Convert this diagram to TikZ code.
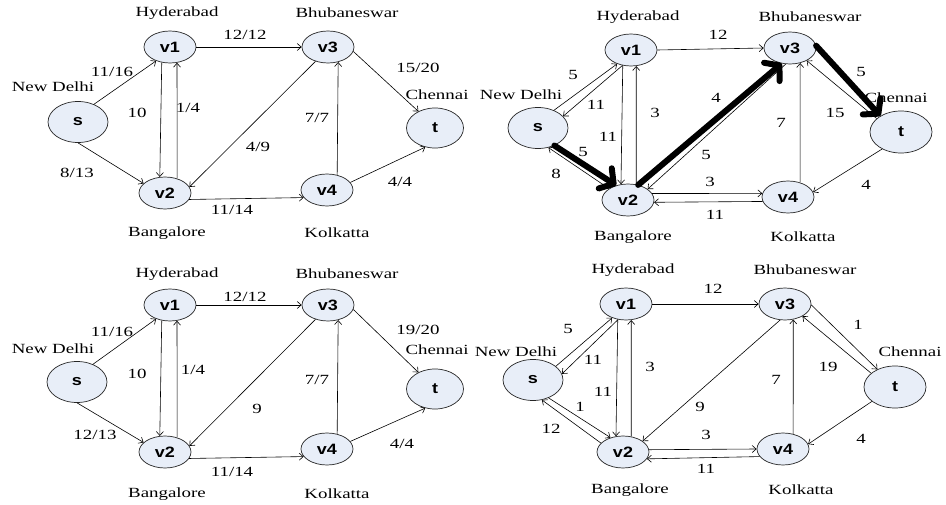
\documentclass[tikz,border=0pt]{standalone}
\usepackage{fontspec}
\setmainfont{Liberation Serif}[FakeStretch=1.35]
\newfontfamily\vertexfont{Liberation Sans}[FakeStretch=1.2]
\usetikzlibrary{arrows.meta,shapes.geometric}
\definecolor{nodefill}{RGB}{232,238,248}

\begin{document}
\begin{tikzpicture}[x=1pt,y=-1pt,
  >={Straight Barb[length=4pt,width=7pt]},
  vertex/.style={ellipse,draw=black!85,fill=nodefill,line width=0.7pt,inner sep=0pt,
                 minimum width=52pt,minimum height=32pt,
                 font=\vertexfont\bfseries\fontsize{15}{15}\selectfont},
  terminal/.style={vertex,minimum width=60pt,minimum height=41pt},
  city/.style={inner sep=0pt,font=\fontsize{14}{14}\selectfont},
  weight/.style={inner sep=0pt,font=\fontsize{14}{14}\selectfont},
  flow/.style={->,line width=0.6pt},
  augment/.style={-{Straight Barb[length=10pt,width=24pt,round]},line width=6pt,line cap=round}]
\useasboundingbox (0,0) rectangle (946,505);

% top left: flow after first augmentation
\node[terminal] (a-s) at (78,122) {s};
\node[vertex] (a-v1) at (170,47) {v1};
\node[vertex] (a-v2) at (165,193) {v2};
\node[vertex] (a-v3) at (328,47) {v3};
\node[vertex] (a-v4) at (327,190) {v4};
\node[terminal,minimum width=57pt,minimum height=40pt] (a-t) at (435,128) {t};
\node[city] (a-hyd) at (177,13) {Hyderabad};
\node[city] (a-bhu) at (347,13) {Bhubaneswar};
\node[city] (a-del) at (53,87) {New Delhi};
\node[city] (a-che) at (437,95) {Chennai};
\node[city] (a-ban) at (167,233) {Bangalore};
\node[city] (a-kol) at (337,233) {Kolkatta};
\draw[flow] (a-s.48) -- (a-v1.225);
\draw[flow] (a-s.270) -- (a-v2.156);
\draw[flow] (a-v1.east) -- (a-v3.west);
\draw[flow] (a-v1.242) -- (a-v2.108);
\draw[flow] (a-v2.50) -- (a-v1.294);
\draw[flow] (a-v3.229) -- (a-v2.14);
\draw[flow] (a-v4.56) -- (a-v3.304);
\draw[flow] (a-v3.350) -- (a-t.135);
\draw[flow] (a-v4.18) -- (a-t.243);
\draw[flow] (a-v2.345) -- (a-v4.198);
\node[weight] (a-w1) at (112,72) {11/16};
\node[weight] (a-w2) at (245,35) {12/12};
\node[weight] (a-w3) at (418,68) {15/20};
\node[weight] (a-w4) at (137,113) {10};
\node[weight] (a-w5) at (188,108) {1/4};
\node[weight] (a-w6) at (317,118) {7/7};
\node[weight] (a-w7) at (258,147) {4/9};
\node[weight] (a-w8) at (77,173) {8/13};
\node[weight] (a-w9) at (400,182) {4/4};
\node[weight] (a-w10) at (232,210) {11/14};

% top right: residual network with augmenting path
\node[terminal] (b-s) at (538,128) {s};
\node[vertex] (b-v1) at (631,50) {v1};
\node[vertex] (b-v2) at (628,200) {v2};
\node[vertex] (b-v3) at (790,48) {v3};
\node[vertex] (b-v4) at (788,197) {v4};
\node[terminal,minimum width=62pt,minimum height=42pt] (b-t) at (901,132) {t};
\node[city] (b-hyd) at (638,17) {Hyderabad};
\node[city] (b-bhu) at (810,17) {Bhubaneswar};
\node[city] (b-del) at (521,95) {New Delhi};
\node[city] (b-che) at (896,98) {Chennai};
\node[city] (b-ban) at (633,237) {Bangalore};
\node[city] (b-kol) at (803,237) {Kolkatta};
\draw[flow] (b-s.48) -- (b-v1.225);
\draw[flow] (b-v1.241) -- (b-s.25);
\draw[flow] (b-v2.149) -- (b-s.298);
\draw[flow] (b-v1.242) -- (b-v2.114);
\draw[flow] (b-v2.62) -- (b-v1.288);
\draw[flow] (b-v1.east) -- (b-v3.west);
\draw[flow] (b-v3.255) -- (b-v2.29);
\draw[flow] (b-v2.15) -- (b-v4.172);
\draw[flow] (b-v4.190) -- (b-v2.355);
\draw[flow] (b-v4.50) -- (b-v3.304);
\draw[flow] (b-t.151) -- (b-v3.323);
\draw[flow] (b-t.222) -- (b-v4.11);
\draw[augment] (b-s.313) -- (b-v2.129);
\draw[augment] (b-v2.56) -- (b-v3.242);
\draw[augment] (b-v3.5) -- (b-t.142);
\node[weight] (b-w1) at (573,75) {5};
\node[weight] (b-w2) at (596,105) {11};
\node[weight] (b-w3) at (655,113) {3};
\node[weight] (b-w4) at (608,137) {11};
\node[weight] (b-w5) at (583,152) {5};
\node[weight] (b-w6) at (556,174) {8};
\node[weight] (b-w7) at (716,98) {4};
\node[weight] (b-w8) at (706,155) {5};
\node[weight] (b-w9) at (718,35) {12};
\node[weight] (b-w10) at (710,182) {3};
\node[weight] (b-w11) at (715,215) {11};
\node[weight] (b-w12) at (781,123) {7};
\node[weight] (b-w13) at (861,72) {5};
\node[weight] (b-w14) at (835,113) {15};
\node[weight] (b-w15) at (866,185) {4};

% bottom left: flow after second augmentation
\node[terminal] (c-s) at (77,382) {s};
\node[vertex] (c-v1) at (170,305) {v1};
\node[vertex] (c-v2) at (165,452) {v2};
\node[vertex] (c-v3) at (328,305) {v3};
\node[vertex] (c-v4) at (327,449) {v4};
\node[terminal,minimum width=57pt,minimum height=40pt] (c-t) at (435,389) {t};
\node[city] (c-hyd) at (177,274) {Hyderabad};
\node[city] (c-bhu) at (347,274) {Bhubaneswar};
\node[city] (c-del) at (53,349) {New Delhi};
\node[city] (c-che) at (437,350) {Chennai};
\node[city] (c-ban) at (167,494) {Bangalore};
\node[city] (c-kol) at (337,494) {Kolkatta};
\draw[flow] (c-s.48) -- (c-v1.225);
\draw[flow] (c-s.270) -- (c-v2.156);
\draw[flow] (c-v1.east) -- (c-v3.west);
\draw[flow] (c-v1.242) -- (c-v2.108);
\draw[flow] (c-v2.50) -- (c-v1.294);
\draw[flow] (c-v3.229) -- (c-v2.14);
\draw[flow] (c-v4.56) -- (c-v3.304);
\draw[flow] (c-v3.350) -- (c-t.135);
\draw[flow] (c-v4.18) -- (c-t.243);
\draw[flow] (c-v2.345) -- (c-v4.198);
\node[weight] (c-w1) at (112,332) {11/16};
\node[weight] (c-w2) at (245,297) {12/12};
\node[weight] (c-w3) at (418,330) {19/20};
\node[weight] (c-w4) at (137,374) {10};
\node[weight] (c-w5) at (193,370) {1/4};
\node[weight] (c-w6) at (317,380) {7/7};
\node[weight] (c-w7) at (257,409) {9};
\node[weight] (c-w8) at (95,435) {12/13};
\node[weight] (c-w9) at (402,444) {4/4};
\node[weight] (c-w10) at (232,472) {11/14};

% bottom right: final residual network
\node[terminal] (d-s) at (533,380) {s};
\node[vertex] (d-v1) at (626,304) {v1};
\node[vertex] (d-v2) at (623,452) {v2};
\node[vertex] (d-v3) at (785,304) {v3};
\node[vertex] (d-v4) at (783,449) {v4};
\node[terminal,minimum width=62pt,minimum height=42pt] (d-t) at (895,387) {t};
\node[city] (d-hyd) at (633,270) {Hyderabad};
\node[city] (d-bhu) at (805,270) {Bhubaneswar};
\node[city] (d-del) at (516,352) {New Delhi};
\node[city] (d-che) at (910,352) {Chennai};
\node[city] (d-ban) at (630,490) {Bangalore};
\node[city] (d-kol) at (801,490) {Kolkatta};
\draw[flow] (d-s.31) -- (d-v1.225);
\draw[flow] (d-v1.243) -- (d-s.12);
\draw[flow] (d-s.311) -- (d-v2.131);
\draw[flow] (d-v2.158) -- (d-s.294);
\draw[flow] (d-v1.242) -- (d-v2.114);
\draw[flow] (d-v2.62) -- (d-v1.288);
\draw[flow] (d-v1.east) -- (d-v3.west);
\draw[flow] (d-v3.253) -- (d-v2.29);
\draw[flow] (d-v2.5) -- (d-v4.180);
\draw[flow] (d-v4.198) -- (d-v2.344);
\draw[flow] (d-v4.56) -- (d-v3.298);
\draw[flow] (d-v3.358) -- (d-t.135);
\draw[flow] (d-t.150) -- (d-v3.325);
\draw[flow] (d-t.212) -- (d-v4.11);
\node[weight] (d-w1) at (568,329) {5};
\node[weight] (d-w2) at (593,360) {11};
\node[weight] (d-w3) at (650,367) {3};
\node[weight] (d-w4) at (603,392) {11};
\node[weight] (d-w5) at (580,407) {1};
\node[weight] (d-w6) at (551,429) {12};
\node[weight] (d-w7) at (700,407) {9};
\node[weight] (d-w8) at (713,289) {12};
\node[weight] (d-w9) at (706,435) {3};
\node[weight] (d-w10) at (706,469) {11};
\node[weight] (d-w11) at (776,380) {7};
\node[weight] (d-w12) at (858,325) {1};
\node[weight] (d-w13) at (828,367) {19};
\node[weight] (d-w14) at (861,439) {4};
\end{tikzpicture}
\end{document}
